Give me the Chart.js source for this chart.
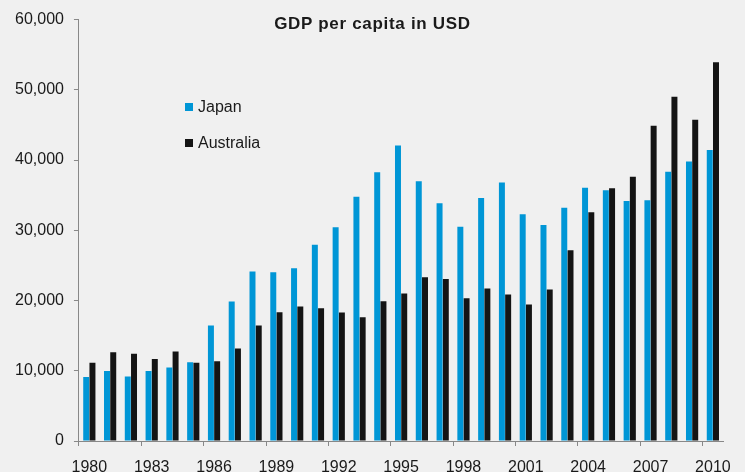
<!DOCTYPE html>
<html>
<head>
<meta charset="utf-8">
<script src="https://cdn.jsdelivr.net/npm/chart.js@4.4.1/dist/chart.umd.min.js"></script>
<style>
	html, body { margin: 0; padding: 0; background: #f0f0f0; }
	#wrap { position: relative; width: 745px; height: 472px; font-family: 'Liberation Sans', Arial, sans-serif; color: #1a1a1a; }
	#title { position: absolute; left: 0; top: 14px; width: 745px; text-align: center; font-weight: bold; font-size: 17px; line-height: 20px; letter-spacing: 0.7px; }
	#legend { position: absolute; left: 185px; top: 97px; font-size: 16px; }
	#legend .item { display: flex; align-items: center; height: 20px; margin-bottom: 16px; }
	#legend .box { width: 8px; height: 8px; margin-right: 5px; }
</style>
</head>
<body>
<div id="wrap">
	<canvas id="gdpChart" width="745" height="472"></canvas>
	<div id="title">GDP per capita in USD</div>
	<div id="legend"></div>
</div>
<script>
// Lata i PKB per capita (USD)
const years = [
	'1980', '1981', '1982', '1983', '1984', '1985', '1986', '1987', '1988', '1989',
	'1990', '1991', '1992', '1993', '1994', '1995', '1996', '1997', '1998', '1999',
	'2000', '2001', '2002', '2003', '2004', '2005', '2006', '2007', '2008', '2009', '2010',
];
const japan = [
	9100, 9950, 9200, 9950, 10470, 11230, 16450, 19860, 24120, 24030,
	24600, 27960, 30430, 34790, 38250, 42090, 36970, 33840, 30520, 34600,
	36820, 32270, 30760, 33220, 36070, 35690, 34170, 34270, 38340, 39810, 41420,
];
const australia = [
	11130, 12650, 12420, 11660, 12750, 11130, 11370, 13180, 16450, 18340,
	19150, 18910, 18290, 17630, 19900, 21000, 23320, 23080, 20330, 21710,
	20850, 19430, 21560, 27160, 32560, 35970, 37630, 44880, 49000, 45730, 53930,
];

const axisColor = '#888888';
const textColor = '#1a1a1a';

// legenda w HTML, w środku wykresu
const legendPlugin = {
	id: 'htmlLegend',
	afterUpdate(chart) {
		const el = document.getElementById('legend');
		el.innerHTML = '';
		chart.data.datasets.forEach((ds) => {
			const item = document.createElement('div');
			item.className = 'item';
			const box = document.createElement('span');
			box.className = 'box';
			box.style.background = ds.backgroundColor;
			const txt = document.createElement('span');
			txt.textContent = ds.label;
			item.appendChild(box);
			item.appendChild(txt);
			el.appendChild(item);
		});
	},
};

const ctx = document.getElementById('gdpChart').getContext('2d');
new Chart(ctx, {
	type: 'bar',
	data: {
		labels: years,
		datasets: [
			{
				label: 'Japan',
				data: japan,
				backgroundColor: '#0096d6',
				categoryPercentage: 0.6,
				barPercentage: 0.96,
			},
			{
				label: 'Australia',
				data: australia,
				backgroundColor: '#141414',
				categoryPercentage: 0.6,
				barPercentage: 0.96,
			},
		],
	},
	options: {
		responsive: false,
		animation: false,
		layout: {
			padding: { top: 18, left: 5, right: 20, bottom: 0 },
		},
		plugins: {
			legend: { display: false },
			title: { display: false },
			tooltip: { enabled: false },
		},
		scales: {
			x: {
				offset: true,
				// etykiety lat mogą wystawać poza dolną krawędź, jak w oryginale
				afterFit: (scale) => {
					scale.height = 31;
				},
				grid: {
					offset: true,
					drawOnChartArea: false,
					tickLength: 5,
					color: (c) => (c.index !== undefined && c.index % 3 === 0 ? axisColor : 'rgba(0,0,0,0)'),
				},
				border: { color: axisColor, width: 1 },
				ticks: {
					autoSkip: false,
					maxRotation: 0,
					padding: 14,
					color: textColor,
					font: { family: "'Liberation Sans', Arial, sans-serif", size: 16, lineHeight: 1 },
					callback: function (value, index) {
						return index % 3 === 0 ? this.getLabelForValue(value) : '';
					},
				},
			},
			y: {
				min: 0,
				max: 60000,
				grid: {
					drawOnChartArea: false,
					tickLength: 5,
					color: axisColor,
				},
				border: { color: axisColor, width: 1 },
				ticks: {
					stepSize: 10000,
					padding: 10,
					color: textColor,
					font: { family: "'Liberation Sans', Arial, sans-serif", size: 16 },
					callback: (v) => v.toLocaleString('en-US'),
				},
			},
		},
	},
	plugins: [legendPlugin],
});
</script>
</body>
</html>
